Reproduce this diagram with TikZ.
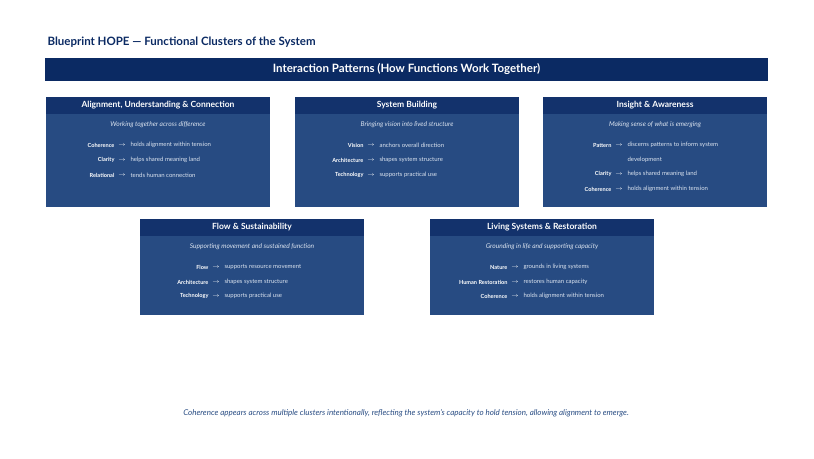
\documentclass[tikz,border=0pt]{standalone}
\usepackage{fontspec}
\setmainfont{Lato}
\usetikzlibrary{positioning}
\definecolor{navy}{HTML}{0B2A63}
\definecolor{panel}{HTML}{274B82}
\definecolor{panelhead}{HTML}{13326C}
\definecolor{soft}{HTML}{DCE4F0}

\tikzset{
  panelbox/.style={fill=panel,draw=none},
  headbar/.style={fill=panelhead,draw=none},
  headtext/.style={text=white,font=\bfseries\fontsize{8.5}{10}\selectfont},
  subtext/.style={text=soft,font=\itshape\fontsize{6.6}{8}\selectfont},
  keytext/.style={text=white,font=\bfseries\fontsize{5.6}{7}\selectfont,anchor=east},
  arrowtext/.style={text=white,font=\fontsize{6.5}{7}\selectfont},
  desctext/.style={text=soft,font=\fontsize{6}{7}\selectfont,anchor=west}
}

% one cluster panel: #1 name, #2 left x, #3 top y, #4 bottom y, #5 arrow x, #6 title, #7 subtitle
\newcommand{\clusterpanel}[7]{
  \fill[panelbox] (#2,#3) rectangle ++(224,{#4-#3});
  \fill[headbar] (#2,#3) rectangle ++(224,17);
  \node[headtext] (#1-head) at ({#2+112},{#3+8.5}) {#6};
  \node[subtext] (#1-sub) at ({#2+112},{#3+28}) {#7};
}
% one entry line: #1 name, #2 arrow x, #3 y, #4 key, #5 text
\newcommand{\clusterrow}[5]{
  \node[arrowtext] (#1-arr) at (#2,#3) {$\rightarrow$};
  \node[keytext] (#1-key) at ({#2-4},#3) {#4};
  \node[desctext] (#1-txt) at ({#2+5},#3) {#5};
}

\begin{document}
\begin{tikzpicture}[x=1pt,y=-1pt]
  \useasboundingbox (0,0) rectangle (814,458);

  \node[anchor=west,text=navy,font=\bfseries\fontsize{11.5}{13}\selectfont] (title) at (44,42) {Blueprint HOPE — Functional Clusters of the System};
  \fill[navy] (45,58) rectangle (768,81);
  \node[text=white,font=\bfseries\fontsize{11.5}{13}\selectfont] (banner) at (406.5,69.5) {Interaction Patterns (How Functions Work Together)};

  % top row
  \clusterpanel{align}{46}{97}{207}{122}{Alignment, Understanding \& Connection}{Working together across difference}
  \clusterrow{align1}{122}{145}{Coherence}{holds alignment within tension}
  \clusterrow{align2}{122}{160}{Clarity}{helps shared meaning land}
  \clusterrow{align3}{122}{175}{Relational}{tends human connection}

  \clusterpanel{build}{295}{97}{207}{371}{System Building}{Bringing vision into lived structure}
  \clusterrow{build1}{371}{145}{Vision}{anchors overall direction}
  \clusterrow{build2}{371}{160}{Architecture}{shapes system structure}
  \clusterrow{build3}{371}{175}{Technology}{supports practical use}

  \clusterpanel{insight}{543}{97}{207}{619}{Insight \& Awareness}{Making sense of what is emerging}
  \clusterrow{insight1}{619}{145}{Pattern}{discerns patterns to inform system}
  \node[desctext] (insight1-more) at (624,160) {development};
  \clusterrow{insight2}{619}{174}{Clarity}{helps shared meaning land}
  \clusterrow{insight3}{619}{189}{Coherence}{holds alignment within tension}

  % bottom row
  \clusterpanel{flow}{140}{219}{315}{216}{Flow \& Sustainability}{Supporting movement and sustained function}
  \clusterrow{flow1}{216}{267}{Flow}{supports resource movement}
  \clusterrow{flow2}{216}{282}{Architecture}{shapes system structure}
  \clusterrow{flow3}{216}{296}{Technology}{supports practical use}

  \clusterpanel{living}{430}{219}{315}{515}{Living Systems \& Restoration}{Grounding in life and supporting capacity}
  \clusterrow{living1}{515}{267}{Nature}{grounds in living systems}
  \clusterrow{living2}{515}{282}{Human Restoration}{restores human capacity}
  \clusterrow{living3}{515}{296}{Coherence}{holds alignment within tension}

  \node[text=panel,font=\itshape\fontsize{8}{10}\selectfont] (note) at (406,413) {Coherence appears across multiple clusters intentionally, reflecting the system’s capacity to hold tension, allowing alignment to emerge.};
\end{tikzpicture}
\end{document}
